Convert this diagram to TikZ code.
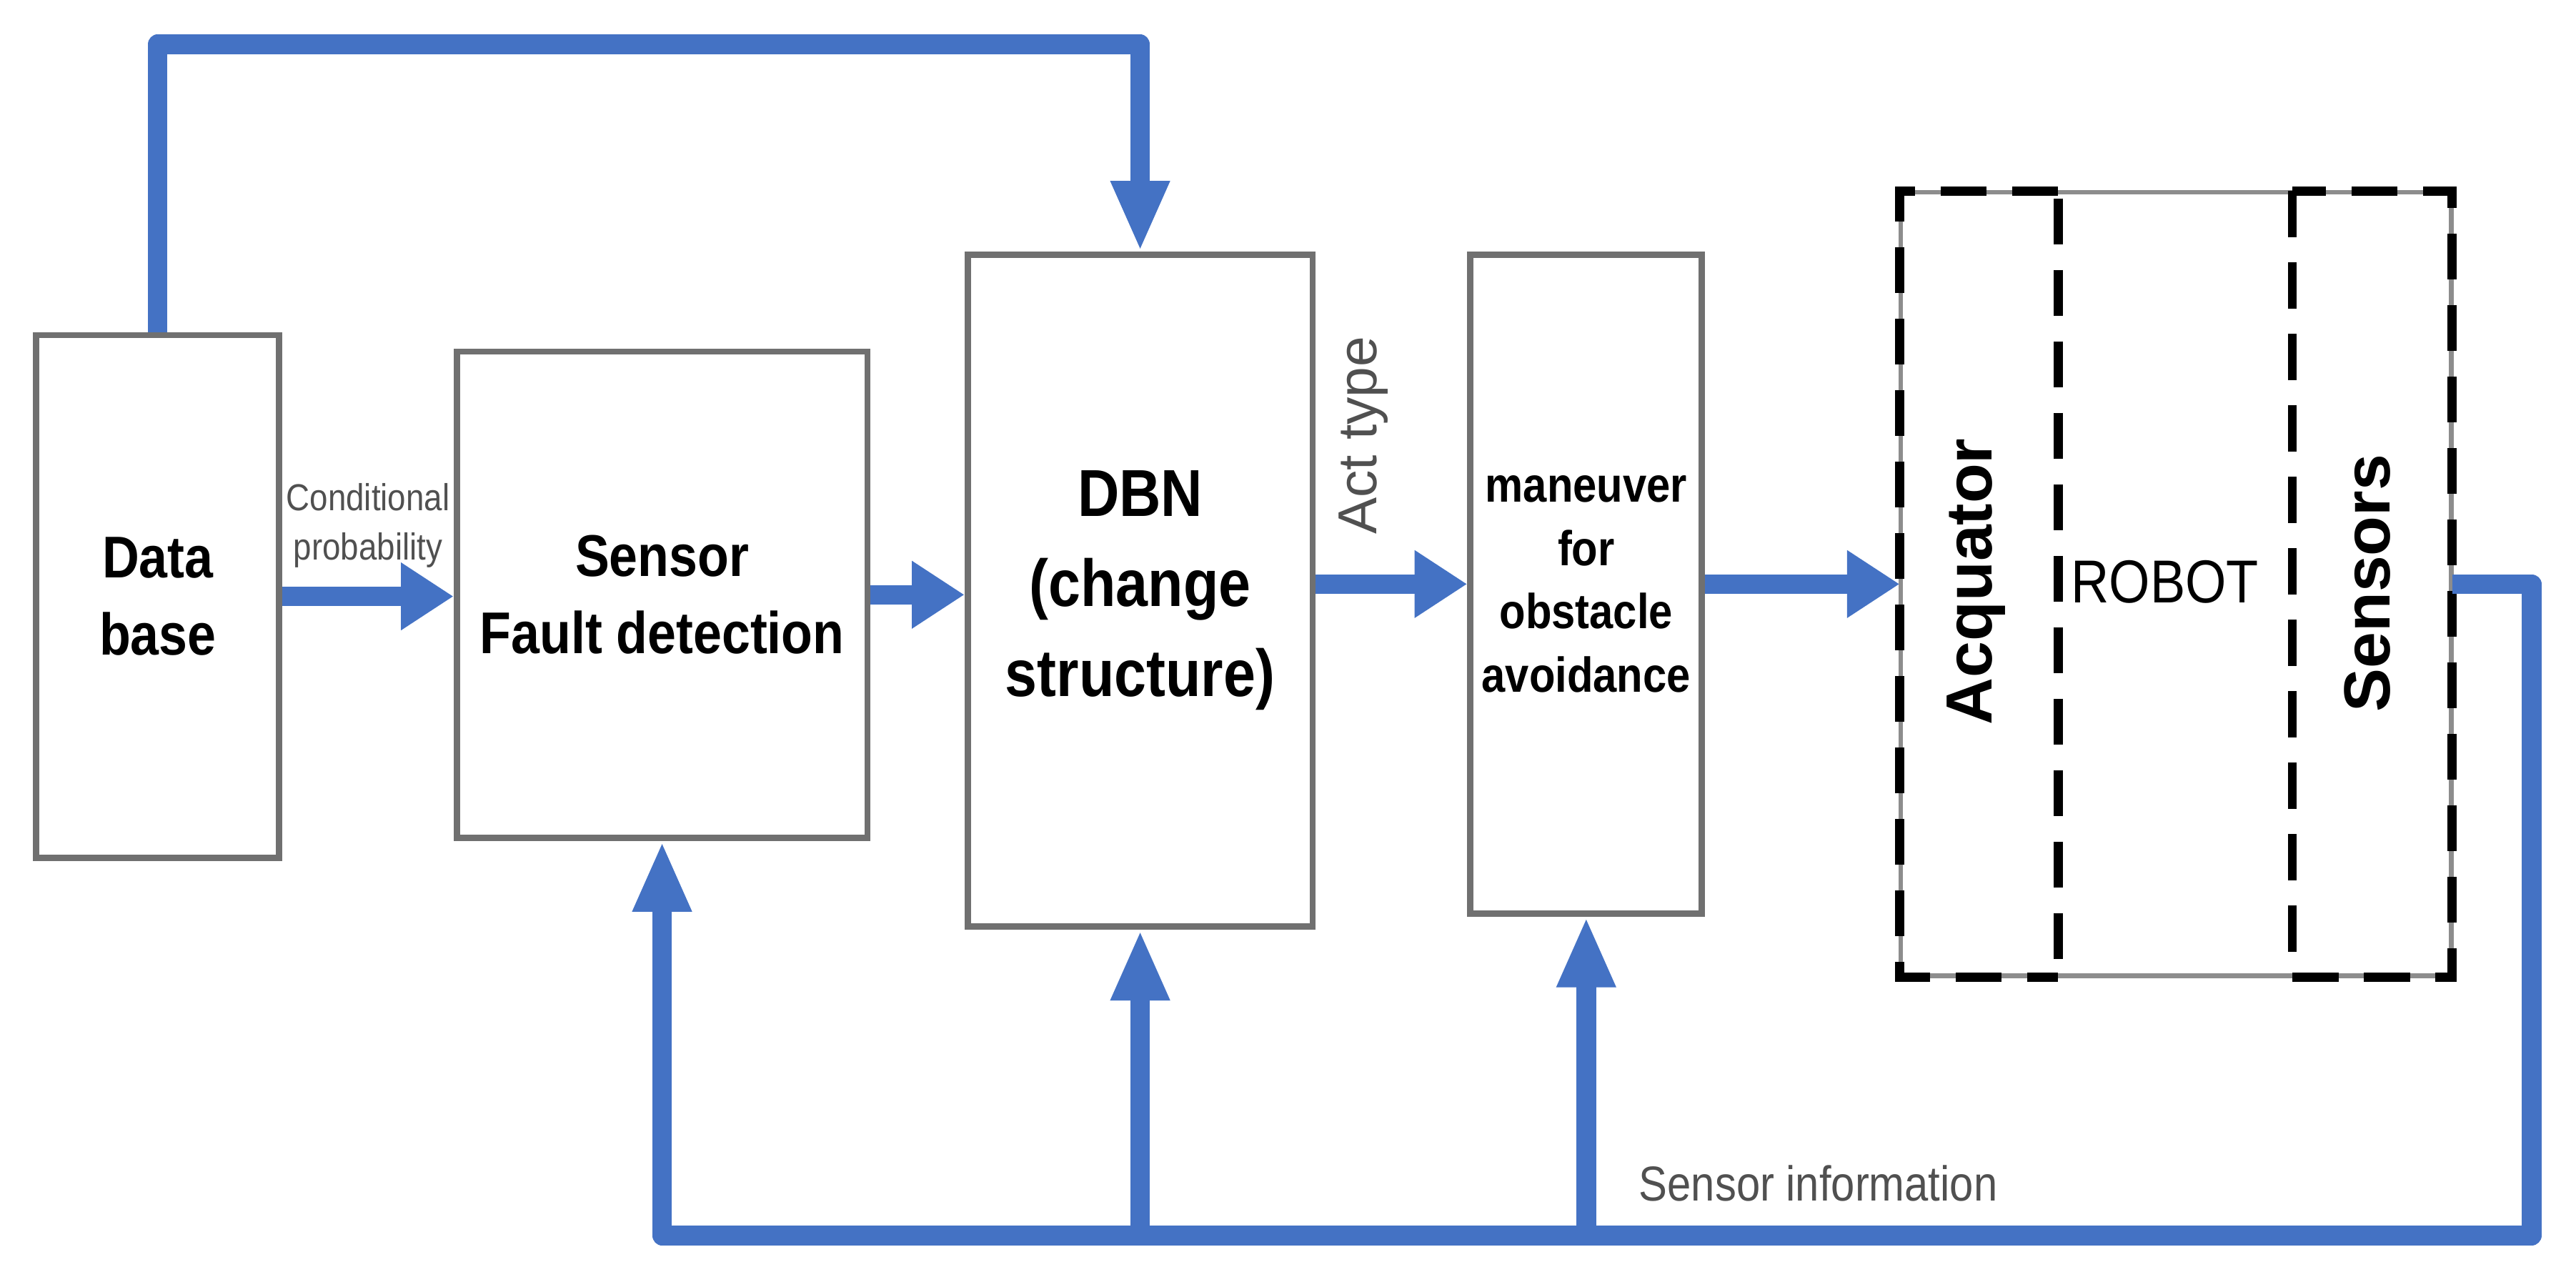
\documentclass[tikz,border=0pt]{standalone}
\usepackage{fontspec}
\setmainfont{Liberation Sans}[FakeStretch=0.87]
\newfontfamily\plainsans{Liberation Sans}
\usetikzlibrary{arrows.meta}
\definecolor{flowblue}{RGB}{68,114,196}
\definecolor{boxgray}{RGB}{112,112,112}
\definecolor{lblgray}{RGB}{80,80,80}

\begin{document}
\begin{tikzpicture}[
    box/.style={draw=boxgray, line width=1.1pt, inner sep=0pt, align=center,
        font=\bfseries\fontsize{10.2}{13.4}\selectfont},
    flowh/.style={flowblue, line width=3.4pt, line join=round, -{Triangle[length=3.2mm,width=3.9mm]}},
    flowv/.style={flowblue, line width=3.4pt, line join=round, -{Triangle[length=4.3mm,width=3.3mm]}},
    dashedge/.style={line width=1.6pt, dash pattern=on 0.28cm off 0.155cm},
    lbl/.style={text=lblgray, inner sep=0pt}]
\useasboundingbox (0,0) rectangle (15.68,-7.80);

\node[box, minimum width=1.48cm, minimum height=3.18cm] (db) at (0.96,-3.63) {Data\\base};
\node[box, minimum width=2.50cm, minimum height=2.96cm] (sfd) at (4.03,-3.62) {Sensor\\Fault detection};
\node[box, minimum width=2.10cm, minimum height=4.09cm,
    font=\bfseries\fontsize{11.5}{15.6}\selectfont] (dbn) at (6.94,-3.595) {DBN\\(change\\structure)};
\node[box, minimum width=1.41cm, minimum height=4.01cm,
    font=\bfseries\fontsize{8.5}{11}\selectfont] (man) at (9.655,-3.555) {maneuver\\for\\obstacle\\avoidance};

\node[draw=boxgray!80, line width=0.8pt, minimum width=3.35cm, minimum height=4.77cm] (robot) at (13.245,-3.555) {};
\node[minimum width=0.95cm, minimum height=4.77cm] (acq) at (12.045,-3.555) {};
\node[minimum width=0.96cm, minimum height=4.77cm] (sens) at (14.44,-3.555) {};
\draw[dashedge] (acq.north east) -- (acq.north west) -- (acq.south west) -- (acq.south east);
\draw[dashedge, dash phase=0.39cm] (acq.north east) -- (acq.south east);
\draw[dashedge] (sens.north west) rectangle (sens.south east);
\node[rotate=90, font=\plainsans\bfseries\fontsize{11.3}{13}\selectfont] (acqlbl) at (12.03,-3.54) {Acquator};
\node[rotate=90, font=\plainsans\bfseries\fontsize{11.3}{13}\selectfont] (senslbl) at (14.41,-3.55) {Sensors};
\node[anchor=base west, inner sep=0pt, font=\fontsize{10.5}{12}\selectfont] (robotlbl) at (12.60,-3.667) {ROBOT};

\node[lbl, align=center, font=\fontsize{6.5}{8.5}\selectfont] (condprob) at (2.24,-3.20) {Conditional\\probability};
\node[lbl, rotate=90, font=\plainsans\fontsize{9.5}{11}\selectfont] (acttype) at (8.30,-2.65) {Act type};
\node[lbl, anchor=base west, font=\fontsize{8.5}{10}\selectfont] (sensinfo) at (9.97,-7.31) {Sensor information};

\coordinate (topbus) at (0.96,-0.27);
\coordinate (fbbus) at (15.41,-7.52);

\draw[flowh] (db.east) -- (db.east -| sfd.west);
\draw[flowh] (sfd.east) -- (sfd.east -| dbn.west);
\draw[flowh] (man.west -| dbn.east) -- (man.west);
\draw[flowh] (man.east) -- (man.east -| acq.west);
\draw[flowv] (db.north) -- (topbus) -| (dbn.north);
\draw[flowv] (sens.east) -| (fbbus) -| (sfd.south);
\draw[flowv] (dbn.south |- fbbus) -- (dbn.south);
\draw[flowv] (man.south |- fbbus) -- (man.south);
\end{tikzpicture}
\end{document}
